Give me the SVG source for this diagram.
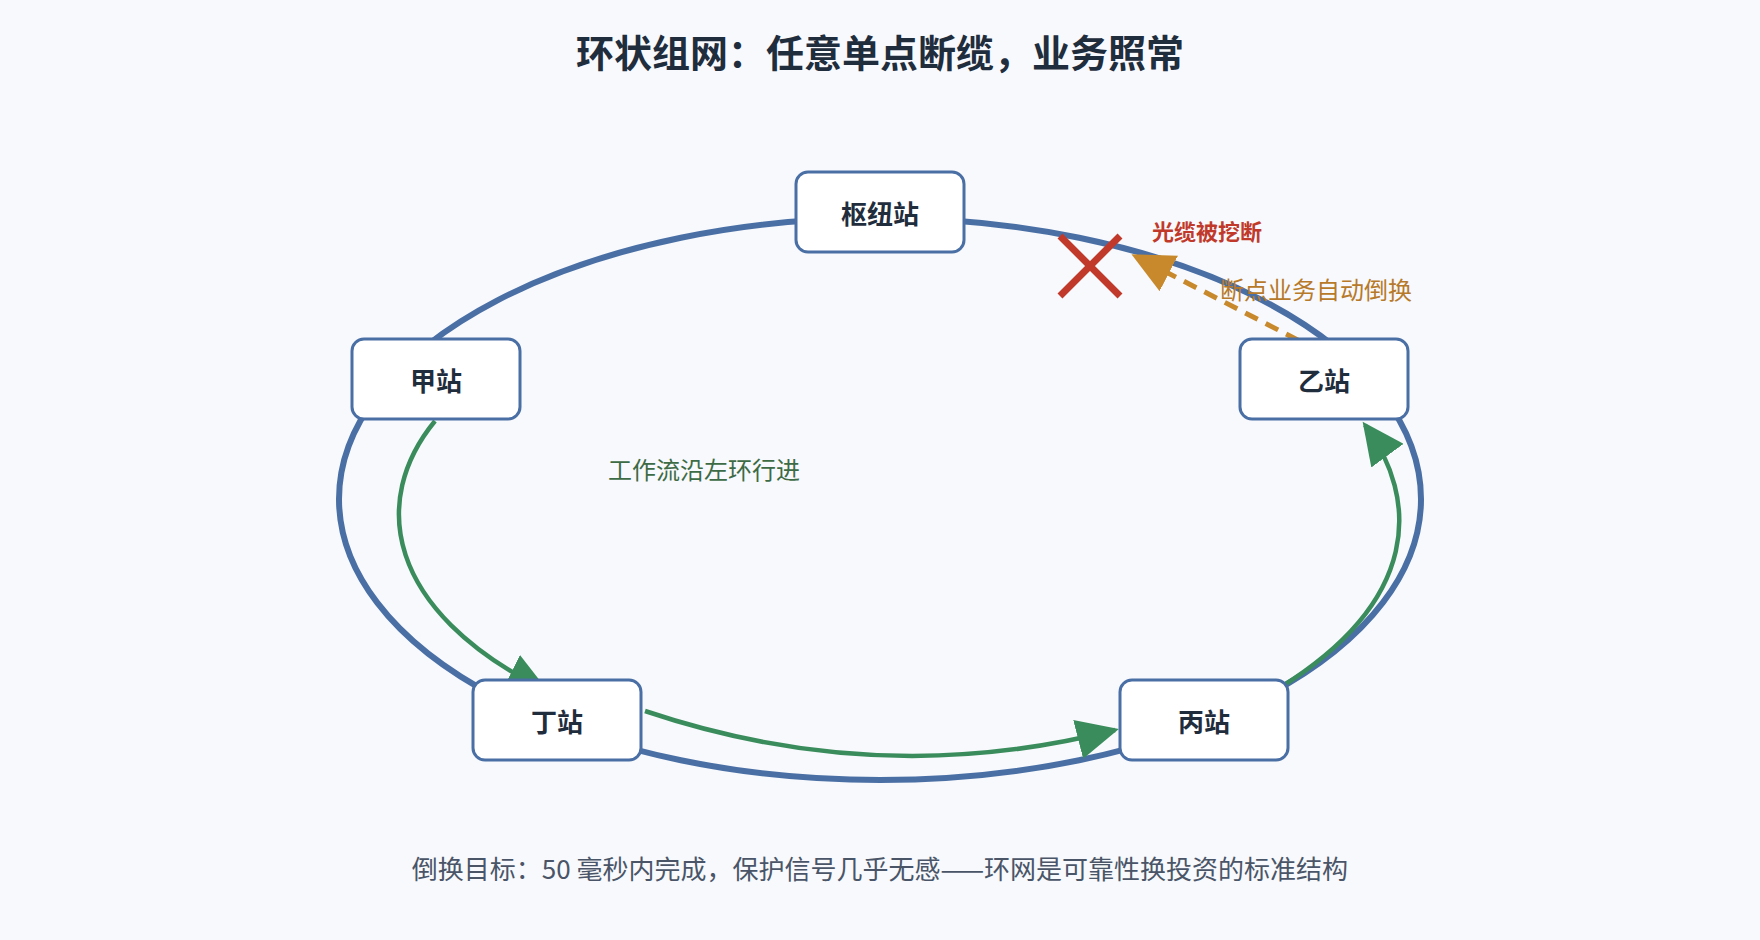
<svg xmlns="http://www.w3.org/2000/svg" width="1760" height="940" viewBox="0 0 1760 940">
<style>
text{font-family:"Noto Sans CJK SC","Liberation Sans",sans-serif}
.node rect{fill:#fff;stroke:#4a6fa5;stroke-width:3}
.node text{font-size:26px;font-weight:bold;fill:#1f2d3d;text-anchor:middle;dominant-baseline:central}
.g{fill:none;stroke:#3a8c5c;stroke-width:4.5}
</style>
<defs>
<marker id="ag" markerUnits="userSpaceOnUse" markerWidth="44" markerHeight="40" refX="38" refY="20" orient="auto"><path d="M0,0 L42,20 L0,40 Z" fill="#3a8c5c"/></marker>
<marker id="ao" markerUnits="userSpaceOnUse" markerWidth="44" markerHeight="40" refX="38" refY="20" orient="auto"><path d="M0,0 L42,20 L0,40 Z" fill="#c8892c"/></marker>
</defs>
<rect width="1760" height="940" fill="#f7f9fc"/>
<text x="880" y="67" font-size="38" font-weight="bold" fill="#1f2d3d" text-anchor="middle">环状组网：任意单点断缆，业务照常</text>
<ellipse cx="880" cy="499" rx="541" ry="281" fill="none" stroke="#4a6fa5" stroke-width="6"/>
<g id="connectors">
<path class="g" d="M435,421 C370,500 385,610 545,690" marker-end="url(#ag)"/>
<path class="g" d="M645,711 Q880,790 1115,730" marker-end="url(#ag)"/>
<path class="g" d="M1281,687 C1420,600 1420,500 1365,425" marker-end="url(#ag)"/>
<path d="M1319,351 L1135,256" fill="none" stroke="#c8892c" stroke-width="5" stroke-dasharray="14,9" marker-end="url(#ao)"/>
</g>
<g id="break">
<path d="M1060,236 L1120,296 M1120,236 L1060,296" stroke="#c0392b" stroke-width="7"/>
<text x="1152" y="240" font-size="22" font-weight="bold" fill="#c0392b">光缆被挖断</text>
<text x="1220" y="299" font-size="24" fill="#b7792a">断点业务自动倒换</text>
</g>
<g id="n-hub" class="node"><rect x="796" y="172" width="168" height="80" rx="12"/><text x="880" y="212">枢纽站</text></g>
<g id="n-jia" class="node"><rect x="352" y="339" width="168" height="80" rx="12"/><text x="436" y="379">甲站</text></g>
<g id="n-yi" class="node"><rect x="1240" y="339" width="168" height="80" rx="12"/><text x="1324" y="379">乙站</text></g>
<g id="n-ding" class="node"><rect x="473" y="680" width="168" height="80" rx="12"/><text x="557" y="720">丁站</text></g>
<g id="n-bing" class="node"><rect x="1120" y="680" width="168" height="80" rx="12"/><text x="1204" y="720">丙站</text></g>
<text x="704" y="479" font-size="24" fill="#3d6b45" text-anchor="middle">工作流沿左环行进</text>
<text x="880" y="879" font-size="26" fill="#4a5568" text-anchor="middle">倒换目标：50 毫秒内完成，保护信号几乎无感——环网是可靠性换投资的标准结构</text>
</svg>
